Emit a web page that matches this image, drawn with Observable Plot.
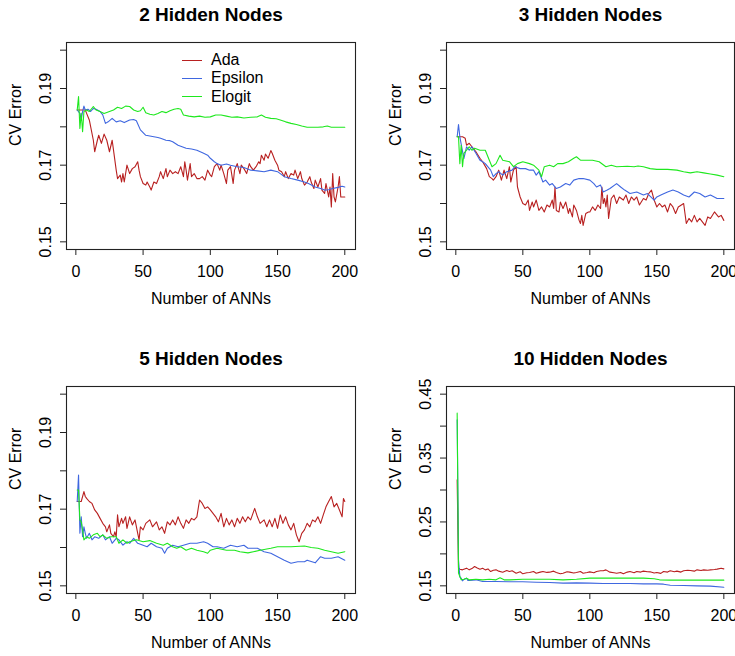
<!DOCTYPE html>
<html><head><meta charset="utf-8">
<script src="https://cdn.jsdelivr.net/npm/d3@7"></script>
<script src="https://cdn.jsdelivr.net/npm/@observablehq/plot@0.6"></script>
<style>
html,body{margin:0;padding:0;background:#fff;overflow:hidden;}
#root{position:relative;width:735px;height:656px;font-family:"Liberation Sans",Arial,Helvetica,sans-serif;}
.panel{position:absolute;}
.panel svg{max-width:none !important;display:block;}
.lg-line{position:absolute;height:0;width:20px;border-top:1.2px solid;}
.lg-text{position:absolute;font-size:16px;line-height:18px;color:#000;}
</style>
</head><body><div id="root"></div>
<script>
// ---------- data (Number of ANNs, CV Error) ----------
const seriesNames = ["Ada", "Epsilon", "Elogit"];
const panelTitles = ["2 Hidden Nodes", "3 Hidden Nodes", "5 Hidden Nodes", "10 Hidden Nodes"];
const xTicks = [0, 50, 100, 150, 200];
const yTicksSmall = [0.15, 0.16, 0.17, 0.18, 0.19, 0.20];
const yLabelsSmall = [0.15, 0.17, 0.19];
const yTicksLarge = [0.15, 0.20, 0.25, 0.30, 0.35, 0.40, 0.45];
const yLabelsLarge = [0.15, 0.25, 0.35, 0.45];

const p1Ada = [[1,0.1844],[7,0.1844],[8,0.1835],[10,0.1818],[13,0.1765],[14,0.1735],[16,0.1765],[17,0.1778],[19,0.1757],[21,0.1781],[23,0.1765],[25,0.1735],[27,0.1765],[29,0.1713],[30,0.1687],[31,0.1665],[33,0.1674],[34,0.1656],[35,0.1678],[36,0.1656],[38,0.1700],[40,0.1678],[42,0.1691],[44,0.1696],[46,0.1709],[47,0.1687],[48,0.1670],[50,0.1652],[52,0.1648],[53,0.1656],[55,0.1643],[56,0.1635],[58,0.1656],[60,0.1652],[62,0.1670],[63,0.1683],[65,0.1665],[67,0.1691],[68,0.1670],[70,0.1687],[72,0.1678],[74,0.1683],[76,0.1678],[78,0.1696],[80,0.1670],[81,0.1709],[82,0.1687],[83,0.1661],[85,0.1704],[86,0.1670],[88,0.1678],[90,0.1665],[92,0.1665],[94,0.1670],[96,0.1661],[98,0.1687],[100,0.1674],[101,0.1670],[103,0.1696],[105,0.1704],[107,0.1687],[108,0.1700],[110,0.1678],[112,0.1652],[113,0.1687],[115,0.1696],[117,0.1652],[118,0.1687],[120,0.1704],[122,0.1678],[123,0.1700],[125,0.1691],[127,0.1678],[129,0.1704],[130,0.1696],[132,0.1687],[134,0.1696],[136,0.1709],[137,0.1704],[138,0.1726],[140,0.1713],[141,0.1729],[143,0.1718],[145,0.1738],[146,0.1731],[148,0.1713],[150,0.1700],[151,0.1687],[153,0.1683],[155,0.1670],[156,0.1683],[158,0.1665],[160,0.1678],[162,0.1674],[163,0.1687],[165,0.1665],[167,0.1683],[168,0.1665],[170,0.1648],[172,0.1656],[174,0.1670],[175,0.1656],[177,0.1639],[178,0.1661],[180,0.1643],[182,0.1665],[183,0.1635],[185,0.1626],[186,0.1652],[188,0.1617],[189,0.1643],[190,0.1591],[191,0.1678],[192,0.1617],[193,0.1604],[195,0.1643],[196,0.1670],[197,0.1617],[199,0.1617],[200,0.1617]];
const p1Epsilon = [[1,0.1844],[3,0.1835],[4,0.1818],[5,0.1840],[6,0.1854],[7,0.1844],[9,0.1846],[11,0.1840],[13,0.1848],[15,0.1846],[18,0.1840],[20,0.1831],[22,0.1809],[24,0.1813],[27,0.1822],[30,0.1813],[33,0.1816],[36,0.1811],[40,0.1818],[43,0.1819],[45,0.1816],[48,0.1792],[52,0.1778],[55,0.1776],[58,0.1774],[61,0.1772],[63,0.1770],[67,0.1765],[70,0.1764],[72,0.1761],[76,0.1752],[79,0.1748],[82,0.1744],[86,0.1742],[90,0.1739],[95,0.1731],[98,0.1726],[100,0.1718],[103,0.1709],[105,0.1704],[108,0.1700],[112,0.1703],[115,0.1700],[120,0.1696],[125,0.1694],[130,0.1687],[135,0.1685],[140,0.1683],[145,0.1687],[150,0.1683],[155,0.1670],[160,0.1665],[165,0.1661],[170,0.1656],[173,0.1652],[178,0.1643],[182,0.1639],[185,0.1635],[188,0.1636],[191,0.1639],[195,0.1642],[198,0.1645],[200,0.1643]];
const p1Elogit = [[1,0.1844],[2,0.1879],[3,0.1796],[4,0.1835],[5,0.1787],[6,0.1840],[8,0.1844],[10,0.1840],[13,0.1853],[15,0.1844],[18,0.1840],[21,0.1835],[25,0.1840],[28,0.1844],[31,0.1851],[34,0.1848],[37,0.1854],[40,0.1853],[43,0.1844],[46,0.1840],[48,0.1842],[50,0.1851],[52,0.1837],[55,0.1833],[58,0.1831],[61,0.1835],[64,0.1840],[67,0.1837],[70,0.1842],[73,0.1846],[76,0.1848],[78,0.1846],[80,0.1831],[84,0.1828],[88,0.1826],[92,0.1828],[96,0.1825],[100,0.1826],[104,0.1831],[108,0.1831],[112,0.1828],[116,0.1825],[120,0.1826],[125,0.1823],[130,0.1825],[135,0.1826],[138,0.1831],[141,0.1825],[145,0.1822],[149,0.1821],[152,0.1818],[156,0.1813],[160,0.1809],[164,0.1806],[168,0.1802],[172,0.1799],[176,0.1799],[180,0.1799],[184,0.1800],[187,0.1802],[190,0.1799],[194,0.1799],[197,0.1799],[200,0.1799]];

const p2Ada = [[1,0.1774],[5,0.1774],[7,0.1770],[8,0.1752],[10,0.1757],[12,0.1748],[13,0.1744],[15,0.1735],[18,0.1718],[20,0.1709],[23,0.1691],[25,0.1670],[27,0.1665],[28,0.1661],[30,0.1670],[32,0.1687],[34,0.1661],[36,0.1687],[38,0.1665],[40,0.1696],[41,0.1656],[43,0.1687],[45,0.1696],[46,0.1643],[48,0.1617],[50,0.1600],[52,0.1596],[54,0.1609],[55,0.1582],[57,0.1604],[58,0.1591],[60,0.1609],[62,0.1582],[64,0.1591],[66,0.1578],[68,0.1596],[70,0.1591],[72,0.1609],[73,0.1587],[74,0.1643],[75,0.1582],[77,0.1578],[78,0.1604],[80,0.1587],[82,0.1604],[84,0.1574],[85,0.1587],[87,0.1565],[88,0.1596],[90,0.1582],[92,0.1556],[93,0.1548],[94,0.1569],[95,0.1543],[97,0.1574],[99,0.1578],[100,0.1578],[102,0.1591],[104,0.1582],[106,0.1596],[108,0.1587],[109,0.1643],[110,0.1600],[111,0.1613],[112,0.1591],[113,0.1622],[114,0.1561],[116,0.1613],[118,0.1622],[120,0.1600],[122,0.1617],[125,0.1609],[127,0.1622],[129,0.1600],[131,0.1617],[133,0.1609],[135,0.1617],[137,0.1596],[140,0.1613],[142,0.1609],[144,0.1626],[146,0.1635],[148,0.1609],[150,0.1591],[152,0.1600],[154,0.1591],[156,0.1596],[158,0.1578],[160,0.1600],[162,0.1591],[164,0.1574],[166,0.1591],[170,0.1600],[172,0.1548],[174,0.1561],[176,0.1552],[178,0.1569],[180,0.1552],[182,0.1561],[186,0.1543],[188,0.1565],[190,0.1561],[193,0.1578],[196,0.1565],[198,0.1569],[200,0.1556]];
const p2Epsilon = [[1,0.1774],[2,0.1806],[3,0.1774],[6,0.1717],[8,0.1748],[10,0.1739],[12,0.1748],[15,0.1731],[18,0.1713],[20,0.1709],[22,0.1704],[26,0.1687],[28,0.1670],[30,0.1678],[32,0.1683],[35,0.1674],[38,0.1683],[42,0.1687],[44,0.1696],[48,0.1691],[52,0.1691],[55,0.1687],[58,0.1687],[60,0.1674],[62,0.1683],[65,0.1656],[67,0.1661],[70,0.1648],[72,0.1652],[75,0.1639],[78,0.1643],[82,0.1652],[85,0.1648],[88,0.1661],[92,0.1665],[95,0.1665],[100,0.1661],[103,0.1652],[105,0.1643],[108,0.1648],[110,0.1630],[113,0.1635],[115,0.1639],[120,0.1652],[123,0.1643],[126,0.1635],[130,0.1626],[135,0.1630],[140,0.1622],[143,0.1626],[148,0.1609],[150,0.1617],[153,0.1622],[158,0.1630],[162,0.1635],[166,0.1630],[170,0.1622],[174,0.1617],[178,0.1630],[182,0.1626],[186,0.1617],[190,0.1622],[195,0.1613],[200,0.1613]];
const p2Elogit = [[1,0.1774],[2,0.1774],[3,0.1704],[4,0.1752],[5,0.1696],[6,0.1731],[8,0.1739],[10,0.1748],[12,0.1739],[14,0.1744],[18,0.1739],[22,0.1739],[25,0.1713],[27,0.1696],[30,0.1704],[33,0.1726],[35,0.1713],[40,0.1709],[43,0.1696],[46,0.1704],[50,0.1709],[55,0.1704],[58,0.1700],[62,0.1687],[64,0.1670],[66,0.1696],[70,0.1700],[73,0.1696],[76,0.1704],[80,0.1704],[84,0.1709],[88,0.1718],[90,0.1722],[93,0.1713],[97,0.1713],[102,0.1713],[107,0.1709],[112,0.1696],[116,0.1700],[120,0.1696],[128,0.1697],[133,0.1696],[136,0.1698],[140,0.1696],[145,0.1691],[150,0.1689],[158,0.1689],[165,0.1687],[170,0.1683],[175,0.1680],[180,0.1683],[185,0.1680],[190,0.1677],[195,0.1674],[200,0.1670]];

const p3Ada = [[1,0.1720],[4,0.1720],[6,0.1746],[7,0.1733],[8,0.1728],[10,0.1720],[12,0.1715],[14,0.1698],[16,0.1689],[18,0.1676],[20,0.1663],[22,0.1654],[23,0.1641],[25,0.1659],[26,0.1637],[28,0.1628],[29,0.1641],[30,0.1628],[31,0.1685],[32,0.1654],[34,0.1676],[35,0.1663],[37,0.1680],[38,0.1650],[40,0.1680],[42,0.1659],[44,0.1672],[46,0.1637],[47,0.1620],[48,0.1654],[50,0.1646],[52,0.1663],[55,0.1672],[57,0.1654],[60,0.1667],[62,0.1646],[64,0.1654],[66,0.1637],[68,0.1667],[70,0.1659],[72,0.1672],[74,0.1659],[76,0.1680],[78,0.1663],[80,0.1650],[82,0.1672],[84,0.1663],[86,0.1676],[88,0.1672],[90,0.1680],[92,0.1724],[94,0.1715],[96,0.1702],[98,0.1706],[100,0.1698],[102,0.1689],[104,0.1680],[106,0.1667],[108,0.1689],[110,0.1654],[112,0.1676],[114,0.1659],[116,0.1672],[118,0.1654],[120,0.1676],[122,0.1663],[124,0.1680],[126,0.1667],[128,0.1680],[130,0.1672],[133,0.1702],[135,0.1680],[137,0.1663],[140,0.1672],[142,0.1654],[144,0.1672],[146,0.1654],[148,0.1676],[150,0.1650],[152,0.1685],[154,0.1663],[156,0.1680],[158,0.1659],[160,0.1646],[162,0.1663],[164,0.1633],[166,0.1615],[168,0.1637],[170,0.1646],[172,0.1663],[174,0.1654],[176,0.1672],[178,0.1667],[180,0.1680],[182,0.1663],[184,0.1685],[186,0.1706],[188,0.1720],[190,0.1733],[192,0.1706],[194,0.1715],[196,0.1698],[198,0.1680],[199,0.1728],[200,0.1720]];
const p3Epsilon = [[1,0.1720],[2,0.1789],[3,0.1637],[4,0.1680],[5,0.1628],[6,0.1654],[7,0.1637],[8,0.1624],[10,0.1637],[12,0.1620],[14,0.1628],[17,0.1624],[20,0.1633],[22,0.1620],[25,0.1628],[27,0.1611],[30,0.1624],[32,0.1620],[35,0.1606],[38,0.1615],[40,0.1611],[43,0.1624],[46,0.1611],[50,0.1606],[53,0.1602],[56,0.1611],[60,0.1602],[64,0.1598],[66,0.1585],[68,0.1598],[72,0.1606],[76,0.1602],[80,0.1606],[85,0.1611],[90,0.1611],[95,0.1615],[98,0.1611],[102,0.1602],[105,0.1602],[110,0.1598],[115,0.1606],[120,0.1602],[125,0.1606],[128,0.1598],[135,0.1598],[140,0.1589],[145,0.1585],[150,0.1576],[155,0.1567],[160,0.1559],[165,0.1563],[170,0.1563],[172,0.1567],[178,0.1560],[182,0.1576],[185,0.1572],[190,0.1572],[195,0.1576],[200,0.1567]];
const p3Elogit = [[1,0.1750],[2,0.1750],[3,0.1672],[4,0.1667],[5,0.1646],[6,0.1620],[8,0.1628],[10,0.1624],[13,0.1633],[16,0.1637],[18,0.1628],[20,0.1633],[23,0.1624],[26,0.1628],[30,0.1628],[32,0.1611],[35,0.1620],[38,0.1611],[40,0.1615],[45,0.1620],[50,0.1615],[55,0.1618],[60,0.1611],[65,0.1606],[68,0.1611],[72,0.1602],[75,0.1598],[78,0.1602],[82,0.1593],[86,0.1598],[90,0.1593],[95,0.1589],[98,0.1585],[100,0.1593],[105,0.1598],[112,0.1593],[118,0.1593],[122,0.1589],[128,0.1586],[132,0.1589],[137,0.1593],[145,0.1598],[150,0.1602],[160,0.1602],[170,0.1604],[175,0.1600],[180,0.1598],[185,0.1593],[190,0.1589],[195,0.1585],[200,0.1589]];

const p4Ada = [[1,0.3159],[2,0.1777],[3,0.1761],[5,0.1750],[8,0.1777],[10,0.1750],[12,0.1770],[14,0.1803],[16,0.1780],[18,0.1761],[20,0.1775],[22,0.1750],[24,0.1765],[26,0.1724],[28,0.1745],[30,0.1750],[32,0.1730],[35,0.1714],[38,0.1740],[40,0.1724],[42,0.1735],[45,0.1698],[48,0.1720],[50,0.1688],[53,0.1705],[55,0.1709],[58,0.1725],[60,0.1698],[63,0.1715],[65,0.1724],[68,0.1710],[70,0.1714],[73,0.1730],[75,0.1709],[78,0.1690],[80,0.1698],[83,0.1720],[85,0.1714],[88,0.1700],[90,0.1709],[93,0.1725],[95,0.1698],[98,0.1710],[100,0.1719],[103,0.1705],[105,0.1724],[108,0.1735],[110,0.1735],[112,0.1750],[115,0.1714],[118,0.1705],[120,0.1698],[123,0.1710],[125,0.1688],[128,0.1715],[130,0.1724],[133,0.1705],[135,0.1724],[138,0.1715],[140,0.1730],[143,0.1720],[145,0.1719],[148,0.1700],[150,0.1709],[153,0.1695],[155,0.1724],[158,0.1715],[160,0.1735],[163,0.1720],[165,0.1730],[168,0.1715],[170,0.1735],[173,0.1745],[175,0.1740],[178,0.1730],[180,0.1750],[183,0.1740],[185,0.1750],[188,0.1745],[190,0.1750],[193,0.1755],[195,0.1761],[198,0.1775],[200,0.1766]];
const p4Epsilon = [[1,0.4100],[2,0.1900],[3,0.1640],[4,0.1620],[5,0.1578],[6,0.1600],[8,0.1620],[9,0.1583],[10,0.1583],[15,0.1594],[20,0.1568],[30,0.1568],[40,0.1563],[50,0.1563],[60,0.1557],[70,0.1552],[80,0.1542],[90,0.1547],[100,0.1542],[110,0.1537],[120,0.1537],[130,0.1537],[140,0.1531],[150,0.1531],[155,0.1526],[160,0.1510],[170,0.1505],[180,0.1500],[190,0.1495],[200,0.1479]];
const p4Elogit = [[1,0.4203],[2,0.1700],[3,0.1646],[4,0.1594],[6,0.1604],[8,0.1620],[10,0.1594],[15,0.1604],[20,0.1594],[25,0.1604],[30,0.1594],[33,0.1625],[36,0.1594],[40,0.1594],[50,0.1604],[60,0.1604],[70,0.1604],[80,0.1594],[90,0.1604],[100,0.1620],[110,0.1620],[120,0.1620],[130,0.1620],[140,0.1620],[148,0.1610],[152,0.1594],[160,0.1589],[170,0.1589],[180,0.1589],[190,0.1589],[200,0.1589]];

// ---------- drawing ----------
const colors = {Ada: "#b82020", Epsilon: "#3f67e0", Elogit: "#1ee81e"};
const font = '"Liberation Sans", Arial, Helvetica, sans-serif';
const root = document.getElementById("root");

function makePanel(cfg) {
  const [lo, hi] = cfg.ylim;
  const ypad = (hi - lo) * 0.04;
  const xpad = (200 - 1) * 0.04;
  const plot = Plot.plot({
    width: cfg.width, height: 312,
    marginLeft: cfg.mL, marginRight: cfg.mR, marginTop: 42, marginBottom: 63,
    x: {domain: [1 - xpad, 200 + xpad]},
    y: {domain: [lo - ypad, hi + ypad]},
    style: {fontFamily: font, background: "white", color: "#000"},
    marks: [
      ...cfg.series.map((s, i) => Plot.line(s, {x: d => d[0], y: d => d[1], stroke: colors[seriesNames[i]], strokeWidth: 1.1})),
      Plot.frame({stroke: "#222", strokeWidth: 1.1}),
      Plot.axisX(xTicks, {tickSize: 6, tickFormat: () => "", label: null, stroke: "#222"}),
      Plot.text(xTicks, {x: d => d, text: d => String(d), frameAnchor: "bottom", dy: 16, lineAnchor: "top", fontSize: 16}),
      Plot.axisY(cfg.yTicks, {tickSize: 6, tickFormat: () => "", label: null, stroke: "#222"}),
      Plot.text(cfg.yLabels, {y: d => d, text: d => d.toFixed(2), frameAnchor: "left", dx: -16, rotate: -90, lineAnchor: "bottom", textAnchor: "middle", fontSize: 16}),
      Plot.text(["Number of ANNs"], {frameAnchor: "bottom", dy: 43, lineAnchor: "top", fontSize: 16}),
      Plot.text(["CV Error"], {frameAnchor: "left", dx: -51, rotate: -90, lineAnchor: "middle", fontSize: 16}),
      Plot.text([cfg.title], {frameAnchor: "top", dy: -22, lineAnchor: "bottom", fontSize: 19, fontWeight: "bold"})
    ]
  });
  const div = document.createElement("div");
  div.className = "panel";
  div.style.left = cfg.left + "px";
  div.style.top = cfg.top + "px";
  div.appendChild(plot);
  root.appendChild(div);
}

makePanel({title: panelTitles[0], series: [p1Ada, p1Epsilon, p1Elogit], ylim: [0.15, 0.20], yTicks: yTicksSmall, yLabels: yLabelsSmall, left: 0, top: 0, width: 367, mL: 66, mR: 12});
makePanel({title: panelTitles[1], series: [p2Ada, p2Epsilon, p2Elogit], ylim: [0.15, 0.20], yTicks: yTicksSmall, yLabels: yLabelsSmall, left: 367, top: 0, width: 368, mL: 79, mR: 1});
makePanel({title: panelTitles[2], series: [p3Ada, p3Epsilon, p3Elogit], ylim: [0.15, 0.20], yTicks: yTicksSmall, yLabels: yLabelsSmall, left: 0, top: 344, width: 367, mL: 66, mR: 12});
makePanel({title: panelTitles[3], series: [p4Ada, p4Epsilon, p4Elogit], ylim: [0.15, 0.45], yTicks: yTicksLarge, yLabels: yLabelsLarge, left: 367, top: 344, width: 368, mL: 79, mR: 1});

// legend (top-left panel)
const legendRows = [60, 78.3, 96.7];
seriesNames.forEach((name, i) => {
  const ln = document.createElement("div");
  ln.className = "lg-line";
  ln.style.left = "182px";
  ln.style.top = (legendRows[i] - 0.5) + "px";
  ln.style.borderTopColor = colors[name];
  root.appendChild(ln);
  const tx = document.createElement("div");
  tx.className = "lg-text";
  tx.style.left = "211px";
  tx.style.top = (legendRows[i] - 9) + "px";
  tx.textContent = name;
  root.appendChild(tx);
});
</script>
</body></html>
